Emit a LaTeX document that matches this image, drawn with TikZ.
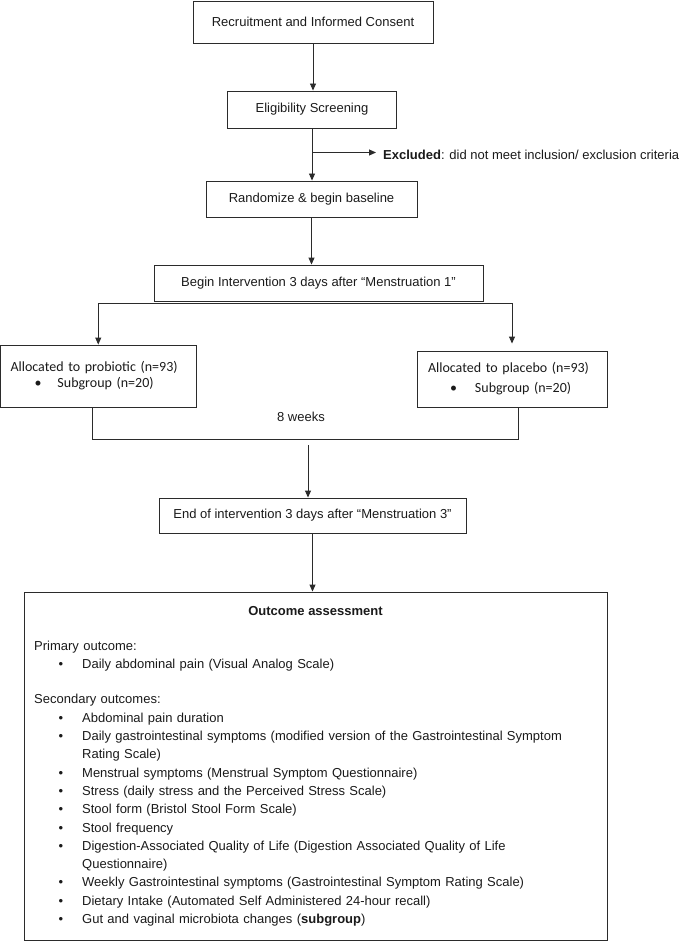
\documentclass[tikz,border=0pt]{standalone}
\usepackage{fontspec}
\setmainfont{Liberation Sans}
\newfontfamily\calibrifont{Carlito}
\usepackage{tikz}
\usetikzlibrary{positioning,calc,arrows.meta}
\definecolor{LineDark}{HTML}{2B2B2B}
\definecolor{TextDark}{HTML}{1A1A1A}
\setlength{\parindent}{0pt}
\newcommand{\outitem}[1]{\par\hangindent=48pt\hangafter=1\noindent\makebox[48pt][l]{\hspace{24.5pt}\textbullet}#1}

\begin{document}
\begin{tikzpicture}[x=1pt,y=-1pt,
  flowbox/.style={draw=LineDark, line width=0.9pt, inner sep=0pt, align=center, text=TextDark, font=\fontsize{13}{16}\selectfont},
  armbox/.style={draw=LineDark, line width=0.9pt, inner xsep=10pt, inner ysep=0pt, align=left, text=TextDark, font=\calibrifont\fontsize{14}{16}\selectfont},
  arr/.style={draw=LineDark, line width=0.9pt, -{Triangle[length=7pt,width=6pt]}},
  link/.style={draw=LineDark, line width=0.9pt},
  lbl/.style={text=TextDark, inner sep=0pt, font=\fontsize{13}{16}\selectfont}]
  \useasboundingbox (0,0) rectangle (685,941);

  % Flow boxes
  \node[flowbox, minimum width=240pt, minimum height=42pt] (recruit) at (313,22) {Recruitment and Informed Consent};
  \node[flowbox, minimum width=169pt, minimum height=37pt] (elig) at (312,109.5) {Eligibility Screening};
  \node[flowbox, minimum width=211pt, minimum height=36pt] (rand) at (311.5,199) {Randomize \& begin baseline};
  \node[flowbox, minimum width=329pt, minimum height=36pt] (begin) at (318.5,283) {Begin Intervention 3 days after “Menstruation 1”};
  \node[flowbox, minimum width=307pt, minimum height=35pt] (endint) at (312.5,515.5) {End of intervention 3 days after “Menstruation 3”};

  % Exclusion
  \node[lbl, anchor=west] (excl) at (383,155) {\textbf{Excluded}: did not meet inclusion/ exclusion criteria};
  \coordinate (exbranch) at (elig.south |- 0,152.5);

  % Arms
  \node[armbox, text width=175.5pt, minimum height=62pt] (probiotic) at (98.25,376)
    {Allocated to probiotic (n=93)\\\makebox[47pt][l]{\hspace{24pt}\textbullet}Subgroup (n=20)};
  \node[armbox, inner xsep=11pt, text width=168pt, minimum height=56pt] (placebo) at (512,379)
    {Allocated to placebo (n=93)\\[4pt]\makebox[47pt][l]{\hspace{22pt}\textbullet}Subgroup (n=20)};
  \node[lbl] (weeks) at (301,417) {8 weeks};

  % Outcome box
  \node[flowbox, minimum width=583pt, minimum height=348pt] (outcome) at (315.5,766) {};
  \node[lbl, font=\bfseries\fontsize{13}{16}\selectfont] (outtitle) at (315.5,611) {Outcome assessment};
  \node[lbl, anchor=north west, text width=545pt, align=left, font=\fontsize{13}{18.3}\selectfont] (outlist) at (34,641)
    {\hyphenpenalty=10000\exhyphenpenalty=10000
     Primary outcome:
     \outitem{Daily abdominal pain (Visual Analog Scale)}
     \par\vspace{16.7pt}
     Secondary outcomes:
     \outitem{Abdominal pain duration}
     \outitem{Daily gastrointestinal symptoms (modified version of the Gastrointestinal Symptom Rating Scale)}
     \outitem{Menstrual symptoms (Menstrual Symptom Questionnaire)}
     \outitem{Stress (daily stress and the Perceived Stress Scale)}
     \outitem{Stool form (Bristol Stool Form Scale)}
     \outitem{Stool frequency}
     \outitem{Digestion-Associated Quality of Life (Digestion Associated Quality of Life Questionnaire)}
     \outitem{Weekly Gastrointestinal symptoms (Gastrointestinal Symptom Rating Scale)}
     \outitem{Dietary Intake (Automated Self Administered 24-hour recall)}
     \outitem{Gut and vaginal microbiota changes (\textbf{subgroup})}};

  % Connectors
  \draw[arr] (recruit.south) -- (recruit.south |- elig.north);
  \draw[arr] (elig.south) -- (elig.south |- rand.north);
  \draw[arr, shorten >=7pt] (exbranch) -- (exbranch -| excl.west);
  \draw[arr] (rand.south) -- (rand.south |- begin.north);

  % Split to the two arms
  \coordinate (split) at ([yshift=-2pt]begin.south);
  \draw[link] (split -| probiotic.north) -- (split -| placebo.north);
  \draw[arr] (split -| probiotic.north) -- (probiotic.north);
  \draw[arr, shorten >=7pt] (split -| placebo.north) -- (placebo.north);

  % 8 weeks bracket
  \draw[link] ([xshift=-6pt]probiotic.south) -- ++(0,32) -| ([xshift=6pt]placebo.south);
  \coordinate (wk) at (308,445);
  \draw[arr] (wk) -- (wk |- endint.north);
  \draw[arr] (endint.south) -- (endint.south |- outcome.north);
\end{tikzpicture}
\end{document}
